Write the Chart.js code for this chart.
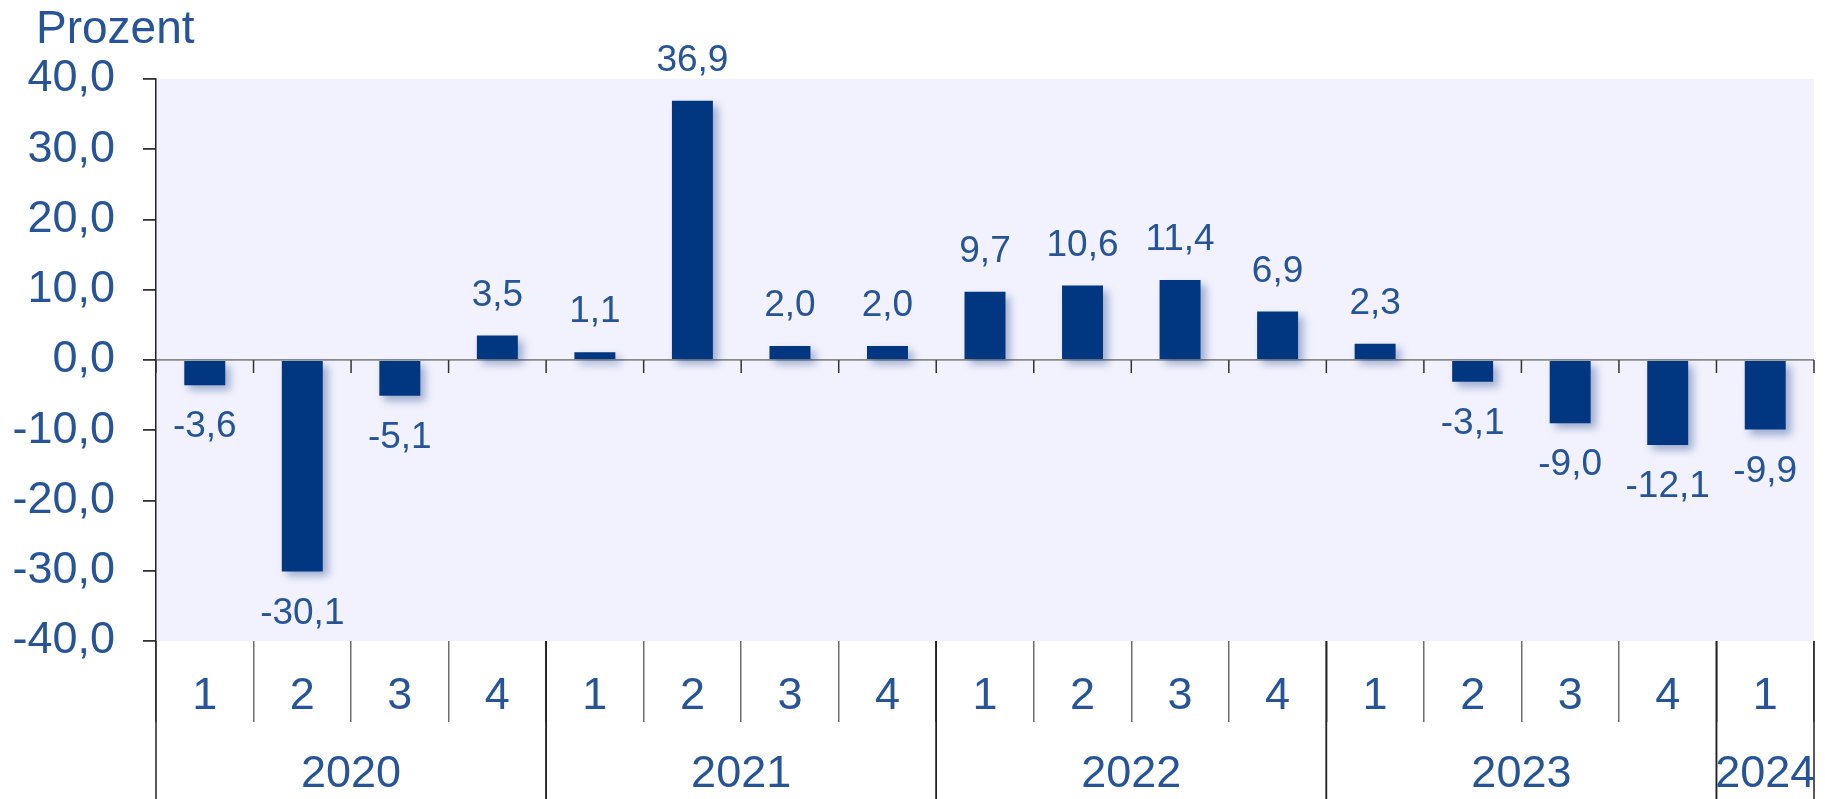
<!DOCTYPE html>
<html lang="de">
<head>
  <meta charset="UTF-8">
  <title>Prozent je Quartal</title>
  <script src="https://cdn.jsdelivr.net/npm/chart.js"></script>
  <style>
    body {
      margin: 0;
      background: #fff;
    }
    .chart-box {
      width: 1825px;
      height: 799px;
      position: relative;
    }
  </style>
</head>
<body>
  <div class="chart-box">
    <canvas id="chart"></canvas>
  </div>
  <script>
    const quarters = ['1', '2', '3', '4', '1', '2', '3', '4', '1', '2', '3', '4', '1', '2', '3', '4', '1'];
    const years = ['2020', '2020', '2020', '2020', '2021', '2021', '2021', '2021',
                   '2022', '2022', '2022', '2022', '2023', '2023', '2023', '2023', '2024'];
    const values = [-3.6, -30.1, -5.1, 3.5, 1.1, 36.9, 2.0, 2.0, 9.7, 10.6, 11.4, 6.9, 2.3, -3.1, -9.0, -12.1, -9.9];
    const yTicks = [-40, -30, -20, -10, 0, 10, 20, 30, 40];

    const textColor = '#265496';
    const barColor = '#003780';
    const font = 'Liberation Sans, Arial, sans-serif';

    function fmt(v) {
      return v.toFixed(1).replace('.', ',');
    }

    const decor = {
      id: 'decor',
      beforeDraw(chart) {
        const { ctx, chartArea: a } = chart;
        ctx.save();
        ctx.fillStyle = '#f1f2fd';
        ctx.fillRect(a.left, a.top, a.right - a.left, a.bottom - a.top);
        ctx.fillStyle = textColor;
        ctx.font = '46px ' + font;
        ctx.textBaseline = 'alphabetic';
        ctx.fillText('Prozent', 36, 43);
        ctx.restore();
      },
      beforeDatasetsDraw(chart) {
        const ctx = chart.ctx;
        ctx.save();
        ctx.shadowColor = 'rgba(0, 40, 120, 0.35)';
        ctx.shadowBlur = 8;
        ctx.shadowOffsetX = 5;
        ctx.shadowOffsetY = 5;
      },
      afterDatasetsDraw(chart) {
        const ctx = chart.ctx;
        ctx.restore();
        const x = chart.scales.x, y = chart.scales.y;
        const y0 = y.getPixelForValue(0);

        // short ticks under the zero line
        ctx.save();
        ctx.strokeStyle = '#333';
        ctx.lineWidth = 1.5;
        for (let i = 0; i <= quarters.length; i++) {
          const px = x.getPixelForValue(i - 0.5);
          ctx.beginPath();
          ctx.moveTo(px, y0);
          ctx.lineTo(px, y0 + 13);
          ctx.stroke();
        }

        // value labels
        ctx.fillStyle = textColor;
        ctx.font = '37px ' + font;
        ctx.textAlign = 'center';
        ctx.textBaseline = 'middle';
        chart.getDatasetMeta(0).data.forEach((bar, i) => {
          const v = values[i];
          const ly = v >= 0 ? bar.y - 40 : bar.y + 42;
          ctx.fillText(fmt(v), bar.x, ly);
        });
        ctx.restore();
      },
      afterDraw(chart) {
        const { ctx, chartArea: a, height } = chart;
        const x = chart.scales.x;
        ctx.save();
        ctx.strokeStyle = '#222';
        ctx.lineWidth = 1.5;
        ctx.fillStyle = textColor;
        ctx.font = '45px ' + font;
        ctx.textAlign = 'center';
        ctx.textBaseline = 'middle';
        let start = 0;
        for (let i = 1; i <= years.length; i++) {
          if (i === years.length || years[i] !== years[start]) {
            const l = x.getPixelForValue(start - 0.5);
            const r = x.getPixelForValue(i - 0.5);
            [l, r].forEach(px => {
              ctx.beginPath();
              ctx.moveTo(px, a.bottom);
              ctx.lineTo(px, height);
              ctx.stroke();
            });
            ctx.fillText(years[start], (l + r) / 2, 775);
            start = i;
          }
        }
        ctx.restore();
      }
    };

    new Chart(document.getElementById('chart'), {
      type: 'bar',
      data: {
        labels: quarters,
        datasets: [{
          data: values,
          backgroundColor: barColor,
          borderWidth: 0,
          categoryPercentage: 1,
          barPercentage: 0.42
        }]
      },
      options: {
        responsive: true,
        maintainAspectRatio: false,
        animation: false,
        layout: { padding: { top: 79, right: 11, left: 0, bottom: 0 } },
        plugins: {
          legend: { display: false },
          tooltip: { enabled: false }
        },
        scales: {
          x: {
            grid: {
              offset: true,
              drawOnChartArea: false,
              tickLength: 81,
              color: '#6e6e6e',
              lineWidth: 1.5
            },
            border: { display: false },
            ticks: {
              color: textColor,
              font: { family: font, size: 45 },
              padding: -52,
              maxRotation: 0,
              autoSkip: false
            },
            afterFit(scale) { scale.height = 158; }
          },
          y: {
            min: -40,
            max: 40,
            afterBuildTicks(scale) {
              scale.ticks = yTicks.map(v => ({ value: v }));
            },
            grid: {
              drawOnChartArea: true,
              color: ctx => ctx.tick && ctx.tick.value === 0 ? '#8a8a8a' : 'rgba(0,0,0,0)',
              tickColor: '#333',
              tickLength: 13,
              lineWidth: 1.8
            },
            border: { display: true, color: '#222', width: 1.5 },
            ticks: {
              color: textColor,
              font: { family: font, size: 45 },
              padding: 28,
              callback: v => fmt(v)
            },
            afterFit(scale) { scale.width = 156; }
          }
        }
      },
      plugins: [decor]
    });
  </script>
</body>
</html>
